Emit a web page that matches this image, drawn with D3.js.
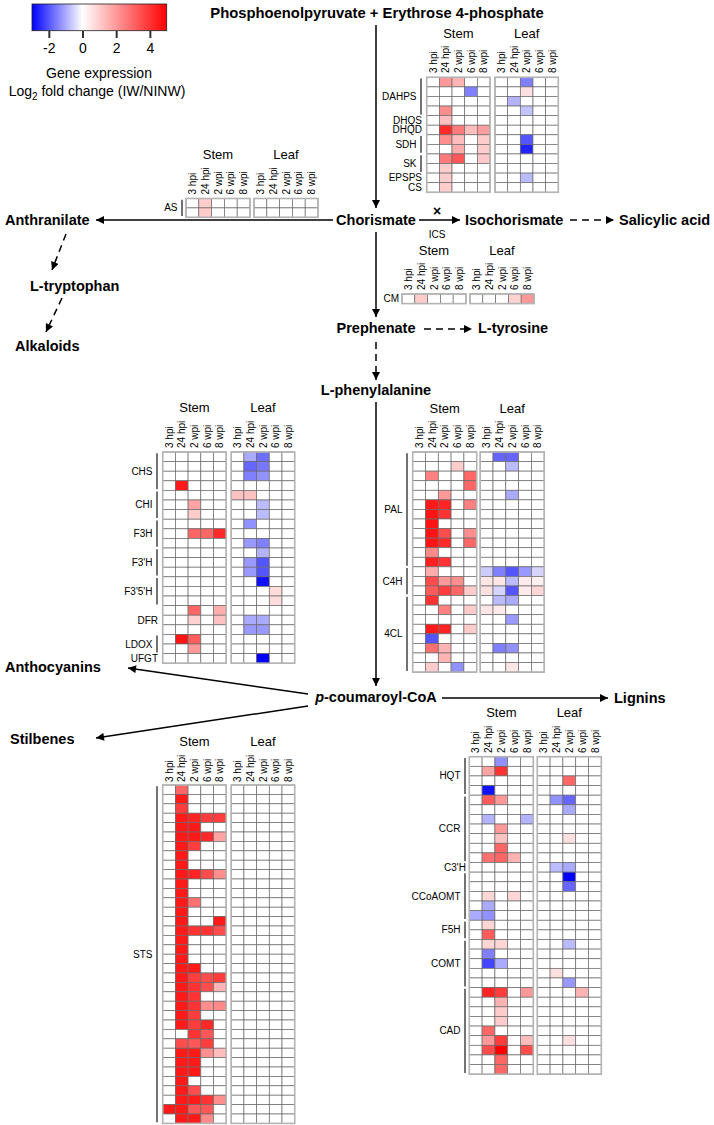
<!DOCTYPE html>
<html><head><meta charset="utf-8">
<script src="https://cdn.jsdelivr.net/npm/d3@7"></script>
<style>body{margin:0;background:#fff} svg{display:block} text{font-family:"Liberation Sans",Arial,Helvetica,sans-serif;fill:#000}</style>
</head><body><svg id="c" width="714" height="1125"></svg>
<script>
// ---------- DATA ----------
const timeLabels = ["3 hpi","24 hpi","2 wpi","6 wpi","8 wpi"];
const tissues = ["Stem","Leaf"];
const legendTicks = [-2,0,2,4];
const legendDomain = [-3,0,5];
const legendTitle = "Gene expression";

// each row: 5 stem values then 5 leaf values (log2 fold change)
const shikimateGenes = [["DAHPS",4,true],["DHQS",1,false],["DHQD",1,false],["SDH",2,true],["SK",2,true],["EPSPS",1,false],["CS",1,false]];
const shikimateRows = [
 [0,2.0,1.5,0,0, 0,0,-1.5,0,0],
 [0,0,0,-1.5,0, 0,0,0.6,0,0],
 [0,0,0,0,0, 0,-0.9,0,0,0],
 [0,2.2,0,0,0, 0,0,-0.7,0,0],
 [0,1.3,0,0,0, 0,0,0,0,0],
 [0,4.2,2.6,1.3,1.9, 0,0,0,0,0],
 [0,2.2,1.3,0,1.0, 0,0,-2.0,0,0],
 [0,0,1.6,0,1.0, 0,0,-2.6,0,0],
 [0,2.6,3.3,0,1.1, 0,0,0,0,0],
 [0,1.0,0,0,0, 0,0,0,0,0],
 [0,1.0,0,0,0, 0,0,-0.8,0,0],
 [0,1.0,0,0,0, 0,0,0,0,0]
];
const asGenes = [["AS",2,true]];
const asRows = [
 [0,1.0,0,0,0, 0,0,0,0,0],
 [0,1.0,0,0,0, 0,0,0,0,0]
];
const cmGenes = [["CM",1,false]];
const cmRows = [
 [0,1.0,0,0,0, 0,0,0,0.9,2.0]
];
const flavGenes = [["CHS",4,true],["CHI",3,true],["F3H",3,true],["F3'H",3,true],["F3'5'H",3,true],["DFR",3,false],["LDOX",2,true],["UFGT",1,false]];
const flavRows = [
 [0,0,0,0,0, 0,-1.0,-1.7,0,0],
 [0,0,0,0,0, 0,-1.8,-1.6,0,0],
 [0,0,0,0,0, 0,-1.5,-1.3,0,0],
 [0,4.5,0,0,0, 0,0,0,0,0],
 [0,0,0,0,0, 1.2,1.2,0,0,0],
 [0,0,1.8,0,0, 0,0,-0.8,0,0],
 [0,0,1.0,0,0, 0,0,-0.8,0,0],
 [0,0,0,0,0, 0,-1.3,0,0,0],
 [0,0,3.0,3.0,4.2, 0,0,0,0,0],
 [0,0,0,0,0, 0,-1.2,-1.5,0,0],
 [0,0,0,0,0, 0,0,-0.9,0,0],
 [0,0,0,0,0, 0,-1.2,-2.0,0,0],
 [0,0,0,0,0, 0,-1.2,-2.0,0,0],
 [0,0,0,0,0, 0,0,-2.8,0,0],
 [0,0,0,0,0, 0,0,0,0.7,0],
 [0,0,0,0,0, 0,0,0,0.7,0],
 [0,0,3.0,0,1.6, 0,0,0,0,0],
 [0,0,0.9,0,1.2, 0,-1.0,-1.0,0,0],
 [0,0,0,0,0, 0,-1.2,-1.2,0,0],
 [0,4.6,3.2,0,0, 0,0,0,0,0],
 [0,0,2.0,0,0, 0,0,0,0,0],
 [0,0,0,0,0, 0,0,-3.0,0,0]
];
const palGenes = [["PAL",12,true],["C4H",3,true],["4CL",8,true]];
const palRows = [
 [0,0,0,0,0, 0,-1.8,-1.8,0,0],
 [0,0,0,1.0,0, 0,0,-0.8,0,0],
 [0,2.5,0,0,3.0, 0,0,0,0,0],
 [0,0,0,0,3.0, 0,0,0,0,0],
 [0,0,2.0,0,0, 0,0,-1.0,0,0],
 [0,4.5,4.3,0,2.5, 0,0,0,0,0],
 [0,4.6,4.0,0,0, 0,0,0,0,0],
 [0,4.6,0,0,0, 0,0,0,0,0],
 [0,4.6,3.5,0,2.2, 0,0,0,0,0],
 [0,4.6,4.2,0,3.0, 0,0,0,0,0],
 [0,2.3,0,0,0, 0,0,0,0,0],
 [0,4.4,4.0,0,0, 0,0,0,0,0],
 [0,1.6,0,0,0, -0.6,-1.5,-2.0,-1.2,-0.5],
 [0,3.5,2.0,2.2,0, 0.5,0.5,-0.8,0.4,0.3],
 [0,3.2,3.8,3.0,1.0, 0.6,-0.5,-2.0,0.4,0.8],
 [0,4.0,0,0,0, 0,-0.8,-1.0,0,0],
 [0,0,2.5,0,1.0, 0.5,0.4,0,0,0],
 [0,0,0,0,0, 0,0,-1.2,0,0],
 [0,4.5,4.3,0,1.0, 0,0,0,0,0],
 [0,-2.0,0,0,0, 0,0,0,0,0],
 [0,2.8,1.5,0,0, 0,-1.5,-1.3,0,0],
 [0,0,1.5,0,0, 0,0,0,0,0],
 [0,1.0,0,-1.3,0, 0,0,0.5,0,0]
];
const stsGenes = [["STS",36,true]];
const stsRows = [
 [0,3.0,0,0,0, 0,0,0,0,0],
 [0,4.5,0,0,0, 0,0,0,0,0],
 [0,3.8,0,0,0, 0,0,0,0,0],
 [0,4.5,4.3,3.8,3.8, 0,0,0,0,0],
 [0,4.5,4.5,0,0, 0,0,0,0,0],
 [0,4.5,4.5,4.2,1.8, 0,0,0,0,0],
 [0,4.5,3.8,0,0, 0,0,0,0,0],
 [0,4.5,0,0,0, 0,0,0,0,0],
 [0,4.5,0,0,0, 0,0,0,0,0],
 [0,4.5,4.3,3.5,2.2, 0,0,0,0,0],
 [0,4.5,0,0,0, 0,0,0,0,0],
 [0,4.5,0,0,0, 0,0,0,0,0],
 [0,4.5,2.8,0,0, 0,0,0,0,0],
 [0,4.5,0,0,0, 0,0,0,0,0],
 [0,4.5,0,0,4.5, 0,0,0,0,0],
 [0,4.5,4.0,4.0,3.5, 0,0,0,0,0],
 [0,4.5,0,0,0, 0,0,0,0,0],
 [0,4.5,0,0,0, 0,0,0,0,0],
 [0,4.5,0,0,0, 0,0,0,0,0],
 [0,4.5,4.5,0,0, 0,0,0,0,0],
 [0,4.5,3.8,3.5,3.8, 0,0,0,0,0],
 [0,4.5,4.0,3.5,1.5, 0,0,0,0,0],
 [0,4.5,4.0,0,0, 0,0,0,0,0],
 [0,4.5,4.0,2.2,2.3, 0,0,0,0,0],
 [0,4.5,3.8,0,0, 0,0,0,0,0],
 [0,4.5,3.8,4.2,0, 0,0,0,0,0],
 [0,0,4.0,3.3,0, 0,0,0,0,0],
 [0,3.5,3.3,3.8,0, 0,0,0,0,0],
 [0,4.5,4.5,2.2,1.3, 0,0,0,0,0],
 [0,4.5,4.5,0,0, 0,0,0,0,0],
 [0,4.5,4.5,0,0, 0,0,0,0,0],
 [0,4.5,0,0,0, 0,0,0,0,0],
 [0,4.5,3.5,0,0, 0,0,0,0,0],
 [0,4.5,4.5,4.0,2.2, 0,0,0,0,0],
 [4.5,4.5,3.3,3.3,0, 0,0,0,0,0],
 [0,4.5,4.5,2.3,0, 0,0,0,0,0]
];
const ligninGenes = [["HQT",4,true],["CCR",7,true],["C3'H",1,false],["CCoAOMT",5,true],["F5H",2,true],["COMT",5,true],["CAD",9,true]];
const ligninRows = [
 [0,0,-1.3,0,0, 0,0,0,0,0],
 [0,1.8,4.0,0,0, 0,0,0,0,0],
 [0,0,0,0,0, 0,0,3.0,0,0],
 [0,-2.8,0,0,0, 0,0,0,0,0],
 [0,3.2,2.0,0,0, 0,-1.3,-1.8,0,0],
 [0,0,0,0,0, 0,0,-1.0,0,0],
 [0,-0.9,0,0,-0.9, 0,0,0,0,0],
 [0,0,2.0,0,0, 0,0,0,0,0],
 [0,0,1.2,0,0, 0,0,0.6,0,0],
 [0,0,3.0,0,0, 0,0,0,0,0],
 [0,2.8,3.0,1.5,0, 0,0,0,0,0],
 [0,0,0,0,0, 0,-0.8,-1.0,0,0],
 [0,0,0,0,0, 0,0,-3.0,0,0],
 [0,0,0,0,0, 0,0,-1.8,0,0],
 [0,0.8,0,0.8,0, 0,0,0,0,0],
 [0,-1.0,0,0,0, 0,0,0,0,0],
 [-1.0,-1.3,0,0,0, 0,0,0,0,0],
 [0,0.8,0,0,0, 0,0,0,0,0],
 [0,3.2,0,0,0, 0,0,0,0,0],
 [0,0.8,0.8,0,0, 0,0,-0.8,0,0],
 [0,-1.5,0,0,0, 0,0,0,0,0],
 [0,-2.2,-1.0,0,0, 0,0,0,0,0],
 [0,0,0,0,0, 0,0.6,0,0,0],
 [0,0,0,0,0, 0,0,-1.2,0,0],
 [0,4.3,3.8,0,2.0, 0,0,0,1.5,0],
 [0,0,1.5,0,0, 0,0,0,0,0],
 [0,0,1.0,0,0, 0,0,0,0,0],
 [0,0,1.0,0,0, 0,0,0,0,0],
 [0,3.0,0,0,0, 0,0,0,0,0],
 [0,2.0,3.8,0,1.3, 0,0,0.6,0,0],
 [0,3.5,5.0,0,3.5, 0,0,0,0,0],
 [0,0,3.0,0,0, 0,0,0,0,0],
 [0,0,3.0,0,0, 0,0,0,0,0]
];

// ---------- DRAWING ----------
const svg = d3.select("#c");
const color = d3.scaleLinear().domain(legendDomain).range(["#0000ff","#ffffff","#ff0000"]).clamp(true);
const defs = svg.append("defs");
defs.append("marker").attr("id","ah").attr("viewBox","0 0 10 10").attr("refX",10).attr("refY",5)
  .attr("markerUnits","userSpaceOnUse").attr("markerWidth",9).attr("markerHeight",8).attr("orient","auto")
  .append("path").attr("d","M0,0L10,5L0,10Z").attr("fill","#000");

// legend
const lg = svg.append("g");
const legendScale = d3.scaleLinear().domain([legendDomain[0], legendDomain[2]]).range([32,166.7]);
const grad = defs.append("linearGradient").attr("id","lgrad");
legendDomain.forEach(v=>grad.append("stop").attr("offset",(legendScale(v)-32)/(166.7-32)).attr("stop-color",color(v)));
lg.append("rect").attr("x",32).attr("y",4).attr("width",134.7).attr("height",26.7).attr("fill","url(#lgrad)").attr("stroke","#222").attr("stroke-width",0.8);
const ax = lg.append("g").attr("transform","translate(0,31)")
  .call(d3.axisBottom(legendScale).tickValues(legendTicks).tickSize(7).tickPadding(5).tickFormat(d=>String(d)));
ax.select(".domain").remove();
ax.selectAll(".tick line").attr("stroke","#333").attr("stroke-width",2);
ax.selectAll(".tick text").attr("font-size",14).attr("font-family","Liberation Sans, Arial, sans-serif").attr("fill","#000");
lg.append("text").attr("x",99).attr("y",78).attr("text-anchor","middle").attr("font-size",14).text(legendTitle);
const lt = lg.append("text").attr("x",97).attr("y",96).attr("text-anchor","middle").attr("font-size",14);
lt.append("tspan").text("Log");
lt.append("tspan").attr("font-size",10).attr("dy",4).text("2");
lt.append("tspan").attr("dy",-4).text(" fold change (IW/NINW)");

// heatmap block
function block(cfg){
  const {x0,y0,rowH,colW,gap,rows,genes,barX,headY,colEnd} = cfg;
  const n = rows.length;
  const g = svg.append("g");
  const y = d3.scaleBand().domain(d3.range(n)).range([y0, y0+n*rowH]);
  tissues.forEach((t,ti)=>{
    const left = x0 + ti*(5*colW+gap);
    const x = d3.scaleBand().domain(timeLabels).range([left, left+5*colW]);
    g.append("text").attr("x",left+2.5*colW).attr("y",headY).attr("text-anchor","middle").attr("font-size",13).text(t);
    timeLabels.forEach(tl=>{
      g.append("text").attr("transform",`translate(${x(tl)+x.bandwidth()/2+3.6},${colEnd}) rotate(-90)`)
        .attr("text-anchor","start").attr("font-size",10).text(tl);
    });
    const cells = [];
    rows.forEach((r,ri)=>timeLabels.forEach((tl,ci)=>cells.push({ri,tl,v:r[ti*5+ci]})));
    g.selectAll(null).data(cells).enter().append("rect")
      .attr("x",d=>x(d.tl)).attr("y",d=>y(d.ri)).attr("width",x.bandwidth()).attr("height",y.bandwidth())
      .attr("fill",d=>color(d.v)).attr("stroke","#6a6a6a").attr("stroke-width",0.7);
    g.append("rect").attr("x",left).attr("y",y0).attr("width",5*colW).attr("height",n*rowH)
      .attr("fill","none").attr("stroke","#b4b4b4").attr("stroke-width",1.6);
  });
  let s = 0;
  genes.forEach(([name,count,bar])=>{
    const top = y(s), bot = y(s+count-1)+y.bandwidth();
    g.append("text").attr("x", bar ? barX-4.5 : barX+1).attr("y",(top+bot)/2).attr("dy","0.35em")
      .attr("text-anchor","end").attr("font-size",10).text(name);
    if(bar) g.append("line").attr("x1",barX).attr("x2",barX).attr("y1",top+1.2).attr("y2",bot-1.2)
      .attr("stroke","#444").attr("stroke-width",1.5);
    s += count;
  });
}

block({x0:426.7,y0:77.3,rowH:9.58,colW:12.66,gap:5,rows:shikimateRows,genes:shikimateGenes,barX:421,headY:38,colEnd:73});
block({x0:186,y0:198.5,rowH:9.4,colW:12.8,gap:4,rows:asRows,genes:asGenes,barX:182,headY:159,colEnd:194.5});
block({x0:402,y0:294,rowH:9.6,colW:12.8,gap:4,rows:cmRows,genes:cmGenes,barX:398,headY:255,colEnd:290});
block({x0:162.7,y0:452,rowH:9.6,colW:12.7,gap:5,rows:flavRows,genes:flavGenes,barX:157,headY:412,colEnd:448});
block({x0:412.7,y0:452,rowH:9.57,colW:12.8,gap:3.5,rows:palRows,genes:palGenes,barX:407,headY:413,colEnd:448});
block({x0:162.7,y0:785,rowH:9.4,colW:12.7,gap:5,rows:stsRows,genes:stsGenes,barX:157,headY:746,colEnd:782});
block({x0:469.3,y0:756.7,rowH:9.62,colW:12.8,gap:4,rows:ligninRows,genes:ligninGenes,barX:465,headY:717,colEnd:753});

// pathway
function arrow(x1,y1,x2,y2,dashed){
  svg.append("line").attr("x1",x1).attr("y1",y1).attr("x2",x2).attr("y2",y2)
    .attr("stroke","#000").attr("stroke-width",1.5).attr("stroke-dasharray",dashed?"7,5":null)
    .attr("marker-end","url(#ah)");
}
function label(x,y,txt,anchor){
  return svg.append("text").attr("x",x).attr("y",y).attr("text-anchor",anchor||"start")
    .attr("font-size",14.5).attr("font-weight","bold").text(txt);
}
label(377,18,"Phosphoenolpyruvate + Erythrose 4-phosphate","middle").attr("font-size",14.8);
arrow(376,25,376,208);
label(376,225,"Chorismate","middle");
arrow(333,220,96,220);
label(5,225,"Anthranilate");
arrow(419,220,460,220);
svg.append("text").attr("x",437).attr("y",216).attr("text-anchor","middle").attr("font-size",14).attr("font-weight","bold").text("×");
svg.append("text").attr("x",437).attr("y",238).attr("text-anchor","middle").attr("font-size",10).text("ICS");
label(465,225,"Isochorismate");
arrow(570,220,614,220,true);
label(619,225,"Salicylic acid");
arrow(66,234,52,270,true);
label(30,291,"L-tryptophan");
arrow(62,298,46,332,true);
label(15,351,"Alkaloids");
arrow(376,232,376,317);
label(376,333,"Prephenate","middle");
arrow(424,329,472,329,true);
label(478,333,"L-tyrosine");
arrow(376,342,376,380,true);
label(376,395,"L-phenylalanine","middle");
arrow(376,402,376,686);
const pc = svg.append("text").attr("x",376).attr("y",702).attr("text-anchor","middle").attr("font-size",14.5).attr("font-weight","bold");
pc.append("tspan").attr("font-style","italic").text("p");
pc.append("tspan").text("-coumaroyl-CoA");
arrow(308,694,128,668);
label(5,672,"Anthocyanins");
arrow(308,706,96,738);
label(10,744,"Stilbenes");
arrow(442,698,608,698);
label(614,703,"Lignins");
</script></body></html>
